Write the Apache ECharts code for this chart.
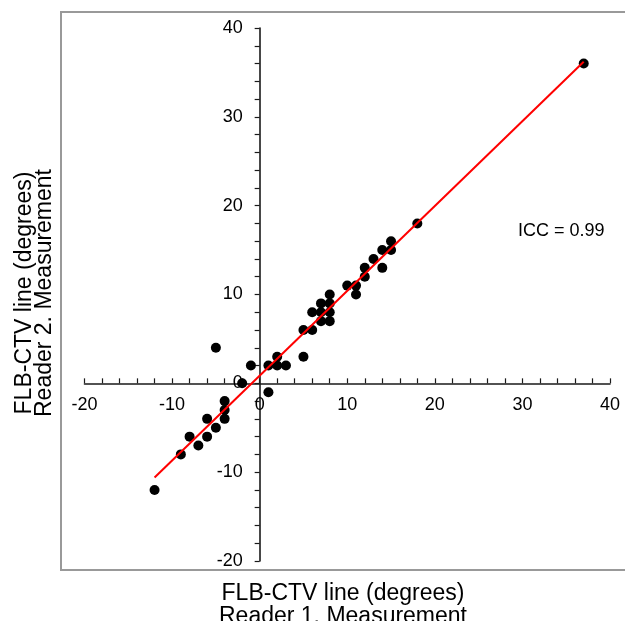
<!DOCTYPE html>
<html>
<head>
<meta charset="utf-8">
<script src="https://cdn.jsdelivr.net/npm/echarts@6/dist/echarts.min.js"></script>
<style>
html,body{margin:0;padding:0;background:#fff;}
#chart{width:625px;height:621px;}
</style>
</head>
<body>
<div id="chart"></div>
<script>
// Reader 1 (x) and Reader 2 (y) measurements, degrees
const reader1 = [37,18,15,15,14,13,12,14,12,11,10,11,8,7,8,6,7,8,7,8,5,6,5,2,1,2,3,-1,-5,-2,1,-4,-4,-4,-6,-5,-8,-6,-7,-9,-12];
const reader2 = [36,18,16,15,15,14,13,13,12,11,11,10,10,9,9,8,8,8,7,7,6,6,3,3,2,2,2,2,4,0,-1,-2,-3,-4,-4,-5,-6,-6,-7,-8,-12];
// Regression line end points
const fitX = [-12, 37];
const fitY = [-10.6, 36.2];
const xTicks = [-20, -10, 0, 10, 20, 30, 40];
const yTicks = [-20, -10, 0, 10, 20, 30, 40];
const iccText = 'ICC = 0.99';
const xTitle = 'FLB-CTV line (degrees)\nReader 1. Measurement';
const yTitle = 'FLB-CTV line (degrees)\nReader 2. Measurement';

const font = '"Liberation Sans", Arial, sans-serif';
const chart = echarts.init(document.getElementById('chart'), null, {renderer: 'canvas'});
const points = reader1.map((x, i) => [x, reader2[i]]);
const fit = fitX.map((x, i) => [x, fitY[i]]);

const gridLeft = 84.5, gridRight = 15, gridTop = 28, gridBottom = 60;
const W = 625, H = 621;
const xMin = xTicks[0], xMax = xTicks[xTicks.length - 1];
const yMin = yTicks[0], yMax = yTicks[yTicks.length - 1];
const plotW = W - gridLeft - gridRight, plotH = H - gridTop - gridBottom;
// move axes to cross at zero (with their labels)
const yAxisOffset = -((0 - xMin) / (xMax - xMin)) * plotW;
const xAxisOffset = -((0 - yMin) / (yMax - yMin)) * plotH;

chart.setOption({
  animation: false,
  backgroundColor: '#fff',
  grid: {left: gridLeft, right: gridRight, top: gridTop, bottom: gridBottom, containLabel: false},
  xAxis: {
    type: 'value', min: xMin, max: xMax, interval: 10, position: 'bottom', offset: xAxisOffset,
    axisLine: {onZero: false, lineStyle: {color: '#1a1a1a', width: 1.6}},
    axisTick: {show: true, inside: true, length: 5, lineStyle: {color: '#1a1a1a', width: 1.2}},
    minorTick: {show: true, splitNumber: 5, length: 5, lineStyle: {color: '#1a1a1a', width: 1.2}},
    axisLabel: {color: '#000', fontSize: 18, fontFamily: font, margin: 13},
    splitLine: {show: false}
  },
  yAxis: {
    type: 'value', min: yMin, max: yMax, interval: 10, position: 'left', offset: yAxisOffset,
    axisLine: {onZero: false, lineStyle: {color: '#1a1a1a', width: 1.6}},
    axisTick: {show: true, inside: false, length: 5, lineStyle: {color: '#1a1a1a', width: 1.2}},
    minorTick: {show: true, splitNumber: 5, length: 5, lineStyle: {color: '#1a1a1a', width: 1.2}},
    axisLabel: {color: '#000', fontSize: 18, fontFamily: font, margin: 17},
    splitLine: {show: false}
  },
  series: [
    {
      type: 'line', data: fit, showSymbol: false, symbol: 'none',
      lineStyle: {color: '#ff0000', width: 2}, z: 3, silent: true
    },
    {
      type: 'scatter', data: points, symbolSize: 10,
      itemStyle: {color: '#000', opacity: 1}, z: 2
    }
  ],
  graphic: [
    {type: 'rect', shape: {x: 61, y: 12, width: 600, height: 558}, style: {fill: 'none', stroke: '#999', lineWidth: 2}, z: -1},
    {type: 'text', x: 518, y: 231, style: {text: iccText, fontSize: 18, fontFamily: font, fill: '#000', verticalAlign: 'middle', align: 'left'}},
    {type: 'text', x: 343, y: 605, style: {text: xTitle, fontSize: 23, lineHeight: 23, fontFamily: font, fill: '#000', align: 'center', verticalAlign: 'middle'}},
    {type: 'text', x: 35, y: 293, rotation: Math.PI / 2, style: {text: yTitle, fontSize: 23, lineHeight: 20, fontFamily: font, fill: '#000', align: 'center', verticalAlign: 'middle'}}
  ]
});
</script>
</body>
</html>
